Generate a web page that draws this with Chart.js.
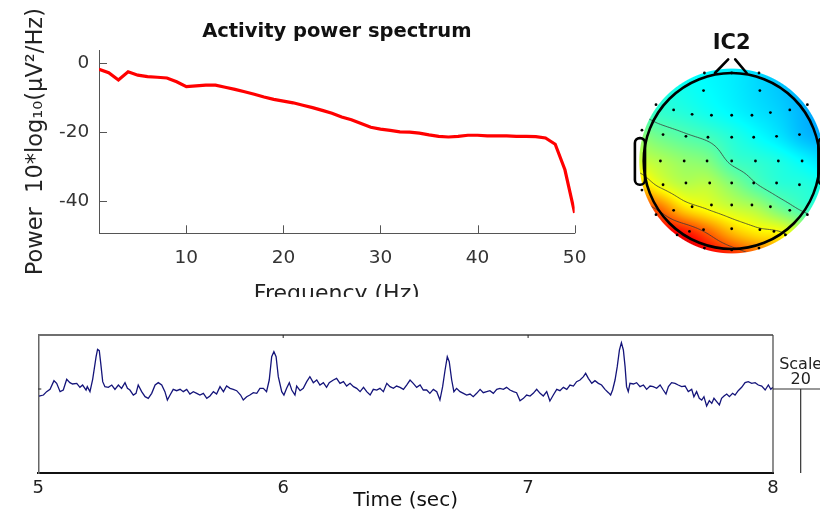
<!DOCTYPE html>
<html lang="en">
<head>
    <meta charset="UTF-8">
    <title>IC2 - component properties</title>
    <script src="https://cdn.jsdelivr.net/npm/chart.js"></script>
    <style>
        * { margin: 0; padding: 0; box-sizing: border-box; }
        html, body { width: 820px; height: 517px; overflow: hidden; background: #fff; }
        body { position: relative; font-family: 'DejaVu Sans', sans-serif; }
        .panel { position: absolute; }
        #specBox { left: 0; top: 0; width: 600px; height: 297px; overflow: hidden; }
        #topoBox { left: 600px; top: 20px; width: 264px; height: 250px; }
        #eegBox { left: 0; top: 325px; width: 820px; height: 192px; }
    </style>
</head>
<body>
    <div class="panel" id="specBox"><canvas id="specChart" width="600" height="320"></canvas></div>
    <div class="panel" id="topoBox"><canvas id="topoChart" width="264" height="250"></canvas></div>
    <div class="panel" id="eegBox"><canvas id="eegChart" width="820" height="192"></canvas></div>

    <script>
        // ---- power spectrum (dB) ----
        const freqHz = [1, 2, 3, 4, 5, 6, 7, 8, 9, 10, 11, 12, 13, 14, 15, 16, 17, 18, 19, 20,
            21, 22, 23, 24, 25, 26, 27, 28, 29, 30, 31, 32, 33, 34, 35, 36, 37, 38, 39, 40,
            41, 42, 43, 44, 45, 46, 47, 48, 49, 50];
        const powerDb = [-1.9, -2.9, -5.0, -2.6, -3.6, -4.0, -4.2, -4.4, -5.5, -6.9,
            -6.7, -6.5, -6.5, -7.1, -7.7, -8.4, -9.1, -9.9, -10.6, -11.1,
            -11.6, -12.3, -13.0, -13.8, -14.6, -15.7, -16.5, -17.6, -18.7, -19.2,
            -19.6, -20.0, -20.1, -20.4, -20.9, -21.3, -21.5, -21.3, -21.0, -21.0,
            -21.2, -21.2, -21.2, -21.3, -21.3, -21.4, -21.8, -23.6, -31.0, -43.5];
        const freqTicks = [10, 20, 30, 40, 50];
        const powerTicks = [-40, -20, 0];

        // ---- scalp map: electrode positions (head radius = 1) ----
        const elecX = [-0.31, 0, 0.31, -0.32, 0.32,
            -0.86, -0.66, -0.45, -0.23, 0, 0.23, 0.44, 0.66, 0.86,
            -1.02, -0.78, -0.52, -0.27, 0, 0.25, 0.51, 0.77, 1.02,
            -0.81, -0.54, -0.28, 0, 0.27, 0.53, 0.80,
            -1.02, -0.78, -0.52, -0.25, 0, 0.25, 0.51, 0.77, 1.02,
            -0.86, -0.66, -0.45, -0.23, 0, 0.23, 0.44, 0.66, 0.86,
            -0.62, -0.48, -0.32, 0, 0.32, 0.48, 0.61,
            -0.31, 0, 0.31];
        const elecY = [1.00, 1.00, 1.00, 0.80, 0.80,
            0.64, 0.58, 0.53, 0.52, 0.52, 0.52, 0.55, 0.58, 0.64,
            0.35, 0.30, 0.28, 0.27, 0.27, 0.27, 0.28, 0.30, 0.35,
            0, 0, 0, 0, 0, 0, 0,
            -0.33, -0.27, -0.25, -0.25, -0.25, -0.25, -0.25, -0.27, -0.33,
            -0.61, -0.56, -0.52, -0.50, -0.50, -0.50, -0.52, -0.56, -0.61,
            -0.84, -0.80, -0.78, -0.77, -0.78, -0.80, -0.84,
            -0.99, -1.01, -0.99];
        // component map sampled on a coarse grid (0..1 on the jet scale)
        const topoGridX = [-1.1, -0.825, -0.55, -0.275, 0, 0.275, 0.55, 0.825, 1.1];
        const topoGridY = [1.1, 0.825, 0.55, 0.275, 0, -0.275, -0.55, -0.825, -1.1];
        const topoGridValues = [
            [0.40, 0.39, 0.38, 0.37, 0.36, 0.34, 0.32, 0.30, 0.28],
            [0.42, 0.405, 0.39, 0.375, 0.36, 0.34, 0.32, 0.30, 0.28],
            [0.45, 0.425, 0.41, 0.39, 0.37, 0.35, 0.33, 0.30, 0.28],
            [0.52, 0.485, 0.46, 0.44, 0.41, 0.38, 0.35, 0.31, 0.29],
            [0.58, 0.55, 0.52, 0.50, 0.44, 0.42, 0.40, 0.37, 0.34],
            [0.69, 0.61, 0.56, 0.56, 0.51, 0.455, 0.42, 0.41, 0.39],
            [0.85, 0.78, 0.67, 0.62, 0.58, 0.55, 0.49, 0.44, 0.41],
            [0.95, 0.90, 0.87, 0.79, 0.70, 0.65, 0.63, 0.56, 0.48],
            [1.00, 0.97, 0.95, 0.90, 0.85, 0.79, 0.72, 0.64, 0.56]
        ];
        const topoContourLevels = [0.45, 0.62, 0.79];
        const topoDiskRadius = 1.05;

        // ---- activity trace (5-8 s) ----
        const eegTime = [5.003, 5.021, 5.034, 5.048, 5.064, 5.075, 5.089, 5.102, 5.116, 5.129,
            5.140, 5.157, 5.170, 5.181, 5.195, 5.200, 5.211, 5.222, 5.236, 5.242,
            5.249, 5.255, 5.263, 5.272, 5.286, 5.300, 5.313, 5.327, 5.340, 5.354,
            5.364, 5.374, 5.388, 5.399, 5.408, 5.422, 5.436, 5.449, 5.463, 5.477,
            5.490, 5.504, 5.517, 5.527, 5.538, 5.551, 5.565, 5.579, 5.592, 5.606,
            5.619, 5.633, 5.647, 5.660, 5.674, 5.688, 5.701, 5.715, 5.728, 5.742,
            5.756, 5.769, 5.783, 5.796, 5.810, 5.826, 5.837, 5.851, 5.864, 5.878,
            5.892, 5.905, 5.919, 5.932, 5.943, 5.953, 5.962, 5.971, 5.980, 5.994,
            6.003, 6.014, 6.025, 6.035, 6.048, 6.055, 6.069, 6.082, 6.096, 6.109,
            6.123, 6.137, 6.150, 6.164, 6.177, 6.188,
            6.205, 6.218, 6.232, 6.246, 6.259, 6.273, 6.287, 6.300, 6.314, 6.328,
            6.341, 6.355, 6.368, 6.382, 6.395, 6.409, 6.423, 6.436, 6.450, 6.463,
            6.477, 6.491, 6.504, 6.518, 6.531, 6.545, 6.559, 6.572, 6.586, 6.599,
            6.613, 6.627, 6.640, 6.651, 6.661, 6.670, 6.678, 6.688, 6.697,
            6.708, 6.722, 6.736, 6.749, 6.763, 6.776, 6.790, 6.804, 6.817, 6.831,
            6.844, 6.858, 6.872, 6.885, 6.899, 6.912, 6.926, 6.940, 6.953, 6.967,
            6.981, 6.994, 7.008, 7.021, 7.035, 7.049, 7.062, 7.076, 7.089, 7.103,
            7.117, 7.130, 7.144, 7.158, 7.171, 7.185, 7.198, 7.212, 7.226,
            7.235, 7.246, 7.260, 7.273, 7.287,
            7.300, 7.314, 7.328, 7.337, 7.345, 7.355, 7.364, 7.373, 7.381, 7.389,
            7.396, 7.402, 7.409, 7.416, 7.430, 7.443, 7.457, 7.471, 7.484, 7.498,
            7.511, 7.525, 7.539, 7.552, 7.563, 7.573, 7.586, 7.600, 7.613, 7.627,
            7.641, 7.654, 7.668, 7.677, 7.688, 7.699, 7.709, 7.718, 7.729, 7.740,
            7.750, 7.759, 7.770, 7.781, 7.790, 7.800, 7.811, 7.822, 7.835, 7.845,
            7.858, 7.872, 7.886, 7.899, 7.913, 7.927, 7.940, 7.954, 7.968, 7.981,
            7.991, 8.000];
        const eegUv = [-1.67, -1.43, -0.63, -0.08, 1.98, 1.35, -0.63, -0.24, 2.30, 1.51,
            1.19, 1.35, 0.40, 0.95, -0.24, 0.56, -0.63, 2.30, 7.70, 9.44,
            9.13, 6.11, 1.75, 0.56, 0.40, 0.95, -0.08, 0.95, 0.16, 1.51,
            0.16, -0.24, -1.43, -1.03, 0.95, -0.63, -1.83, -2.22, -1.03, 0.95,
            1.51, 0.95, -0.63, -2.62, -1.43, -0.08, -0.40, -0.08, -0.63, -0.08,
            -1.19, -0.63, -1.03, -1.43, -1.03, -2.22, -1.67, -0.63, -1.19, 0.56,
            -0.63, 0.71, 0.16, -0.08, -0.40, -1.43, -2.62, -1.83, -1.43, -0.87,
            -1.03, 0.16, 0.16, -0.63, 2.14, 7.70, 8.89, 7.70, 2.94, -0.63,
            -1.43, 0.16, 1.51, -0.24, -1.43, 0.71, -0.40, 0.16, 1.75, 2.94,
            1.51, 2.14, 0.95, 1.51, 0.40, 1.51,
            2.14, 2.54, 1.35, 1.75, 0.71, 1.35, 0.56, 0.16, -0.63, 0.40,
            -0.63, -1.43, -0.08, -0.24, 0.16, -0.63, 1.35, 0.56, 0.16, 0.71,
            0.40, -0.08, 0.95, 2.14, 1.35, 0.40, 0.95, -0.24, -0.24, -1.03,
            -0.08, -0.63, -2.62, 0.56, 4.52, 7.70, 6.51, 2.14, -0.63,
            0.16, -0.63, -1.03, -1.43, -1.19, -1.83, -1.03, -0.08, -0.87, -0.63,
            -0.40, -1.03, -0.08, 0.16, -0.08, 0.40, -0.24, -0.63, -0.87, -2.78,
            -2.22, -1.43, -1.67, -1.03, -0.08, -1.03, -1.67, -0.63, -2.86, -1.43,
            -0.08, -0.40, 0.40, -0.08, 0.95, 0.71, 1.75, 2.14, 2.94,
            3.73, 2.54, 1.35, 1.98, 1.35,
            0.95, -0.08, -0.87, -1.43, -0.24, 2.14, 5.32, 9.29, 11.03, 9.29,
            5.32, 0.56, -0.63, 1.35, 1.19, 1.51, 0.56, 0.95, -0.08, 0.71,
            0.56, 0.16, 0.95, -0.24, -1.19, 0.56, 1.51, 1.35, 0.95, 0.56,
            0.71, -0.63, -0.08, -1.83, -0.63, -2.22, -2.62, -1.83, -4.05, -2.78,
            -3.41, -2.22, -3.02, -3.81, -2.22, -1.67, -1.19, -1.83, -1.03, -1.43,
            -0.40, 0.40, 1.51, 1.75, 1.35, 1.51, 0.95, 0.71, -0.24, 0.95,
            -0.08, 0.40];
        const timeTicks = [5, 6, 7, 8];
        const scaleBarTime = 8.113;
        const scaleBarValue = 20;

        Chart.defaults.font.family = "'DejaVu Sans', sans-serif";
        Chart.defaults.color = '#333';

        // short ticks pointing into the plot, like matlab axes
        const inwardTicks = {
            id: 'inwardTicks',
            afterDraw(chart) {
                const { ctx, chartArea: a, scales: { x, y } } = chart;
                ctx.save();
                ctx.strokeStyle = '#555';
                ctx.lineWidth = 1;
                ctx.beginPath();
                x.ticks.forEach(t => {
                    const p = Math.round(x.getPixelForValue(t.value)) + 0.5;
                    ctx.moveTo(p, a.bottom);
                    ctx.lineTo(p, a.bottom - 8);
                });
                y.ticks.forEach(t => {
                    const p = Math.round(y.getPixelForValue(t.value)) + 0.5;
                    ctx.moveTo(a.left, p);
                    ctx.lineTo(a.left + 8, p);
                });
                ctx.stroke();
                ctx.restore();
            }
        };

        new Chart(document.getElementById('specChart'), {
            type: 'line',
            data: {
                datasets: [{
                    data: freqHz.map((f, i) => ({ x: f, y: powerDb[i] })),
                    borderColor: '#ff0000',
                    borderWidth: 3.2,
                    pointRadius: 0,
                    tension: 0
                }]
            },
            options: {
                responsive: false,
                animation: false,
                devicePixelRatio: 1,
                layout: { padding: { left: 0, right: 21.3, top: 0, bottom: 0 } },
                plugins: {
                    legend: { display: false },
                    tooltip: { enabled: false },
                    title: {
                        display: true,
                        text: 'Activity power spectrum',
                        fullSize: false,
                        color: '#111',
                        font: { size: 19.5, weight: 'bold' },
                        padding: { top: 20.6, bottom: 6 }
                    }
                },
                scales: {
                    x: {
                        type: 'linear',
                        min: 1,
                        max: 50,
                        afterBuildTicks: s => { s.ticks = freqTicks.map(v => ({ value: v })); },
                        afterFit: s => { s.height = 86.7; },
                        grid: { display: false, drawTicks: false },
                        border: { display: true, color: '#555', width: 1 },
                        ticks: { color: '#333', font: { size: 18.5 }, padding: 13.6, maxRotation: 0, autoSkip: false },
                        title: { display: true, text: 'Frequency (Hz)', color: '#222', font: { size: 22 }, padding: { top: 0, bottom: 12.3 } }
                    },
                    y: {
                        min: -49.4,
                        max: 3.7,
                        afterBuildTicks: s => { s.ticks = powerTicks.map(v => ({ value: v })); },
                        afterFit: s => { s.width = 99; },
                        grid: { display: false, drawTicks: false },
                        border: { display: true, color: '#555', width: 1 },
                        ticks: { color: '#333', font: { size: 18.5 }, padding: 9.7 },
                        title: { display: true, text: 'Power  10*log₁₀(μV²/Hz)', color: '#222', font: { size: 22.5 }, padding: { top: 23.1, bottom: 0 } }
                    }
                }
            },
            plugins: [inwardTicks]
        });

        // ---- scalp map helpers ----
        function catmull(p0, p1, p2, p3, t) {
            return p1 + 0.5 * t * (p2 - p0 + t * (2 * p0 - 5 * p1 + 4 * p2 - p3 + t * (3 * (p1 - p2) + p3 - p0)));
        }
        function fieldAt(ux, uy) {
            const n = topoGridX.length, m = topoGridY.length;
            const fi = Math.min(Math.max((ux - topoGridX[0]) / (topoGridX[1] - topoGridX[0]), 0), n - 1.0001);
            const fj = Math.min(Math.max((topoGridY[0] - uy) / (topoGridY[0] - topoGridY[1]), 0), m - 1.0001);
            const i = Math.floor(fi), j = Math.floor(fj);
            const g = (jj, ii) => topoGridValues[Math.max(0, Math.min(m - 1, jj))][Math.max(0, Math.min(n - 1, ii))];
            const rows = [];
            for (let k = -1; k <= 2; k++) {
                rows.push(catmull(g(j + k, i - 1), g(j + k, i), g(j + k, i + 1), g(j + k, i + 2), fi - i));
            }
            return catmull(rows[0], rows[1], rows[2], rows[3], fj - j);
        }
        function jet(v) {
            const c = q => Math.max(0, Math.min(1, q));
            v = c(v);
            return [c(1.5 - Math.abs(4 * v - 3)), c(1.5 - Math.abs(4 * v - 2)), c(1.5 - Math.abs(4 * v - 1))]
                .map(q => Math.round(q * 255));
        }

        // marching squares edge table
        const SEGS = {
            1: [[3, 0]], 2: [[0, 1]], 3: [[3, 1]], 4: [[1, 2]], 5: [[3, 0], [1, 2]], 6: [[0, 2]], 7: [[3, 2]],
            8: [[2, 3]], 9: [[0, 2]], 10: [[0, 1], [2, 3]], 11: [[1, 2]], 12: [[1, 3]], 13: [[0, 1]], 14: [[0, 3]]
        };

        const scalpMap = {
            id: 'scalpMap',
            beforeDatasetsDraw(chart) {
                const { ctx, scales: { x, y } } = chart;
                const cx = x.getPixelForValue(0), cy = y.getPixelForValue(0);
                const unit = x.getPixelForValue(1) - cx;
                const rDisk = topoDiskRadius * unit;

                // interpolated colour disk
                const x0 = Math.floor(cx - rDisk) - 2, y0 = Math.floor(cy - rDisk) - 2;
                const size = Math.ceil(2 * rDisk) + 4;
                const off = document.createElement('canvas');
                off.width = size; off.height = size;
                const octx = off.getContext('2d');
                const img = octx.createImageData(size, size);
                for (let j = 0; j < size; j++) {
                    for (let i = 0; i < size; i++) {
                        const ux = x.getValueForPixel(x0 + i + 0.5);
                        const uy = y.getValueForPixel(y0 + j + 0.5);
                        const r = Math.hypot(ux, uy);
                        const alpha = Math.max(0, Math.min(1, (topoDiskRadius - r) * unit + 0.5));
                        if (alpha <= 0) continue;
                        const col = jet(fieldAt(ux, uy));
                        const k = 4 * (j * size + i);
                        img.data[k] = col[0];
                        img.data[k + 1] = col[1];
                        img.data[k + 2] = col[2];
                        img.data[k + 3] = Math.round(alpha * 255);
                    }
                }
                octx.putImageData(img, 0, 0);
                ctx.drawImage(off, x0, y0);

                // contour lines
                const s = 0.02, D = topoDiskRadius + s;
                const n = Math.ceil(2 * D / s) + 1;
                const vals = new Float32Array(n * n);
                for (let j = 0; j < n; j++) {
                    for (let i = 0; i < n; i++) vals[j * n + i] = fieldAt(-D + i * s, D - j * s);
                }
                const toPx = (fi, fj) => [x.getPixelForValue(-D + fi * s), y.getPixelForValue(D - fj * s)];
                ctx.save();
                ctx.beginPath();
                ctx.arc(cx, cy, rDisk, 0, Math.PI * 2);
                ctx.clip();
                ctx.strokeStyle = '#3a3a3a';
                ctx.lineWidth = 0.8;
                ctx.beginPath();
                topoContourLevels.forEach(L => {
                    for (let j = 0; j < n - 1; j++) {
                        for (let i = 0; i < n - 1; i++) {
                            const a = vals[j * n + i], b = vals[j * n + i + 1];
                            const c = vals[(j + 1) * n + i + 1], d = vals[(j + 1) * n + i];
                            const idx = (a > L ? 1 : 0) | (b > L ? 2 : 0) | (c > L ? 4 : 0) | (d > L ? 8 : 0);
                            const segs = SEGS[idx];
                            if (!segs) continue;
                            const edge = e => {
                                if (e === 0) return toPx(i + (L - a) / (b - a), j);
                                if (e === 1) return toPx(i + 1, j + (L - b) / (c - b));
                                if (e === 2) return toPx(i + 1 - (L - c) / (d - c), j + 1);
                                return toPx(i, j + 1 - (L - d) / (a - d));
                            };
                            segs.forEach(([e1, e2]) => {
                                const p = edge(e1), q = edge(e2);
                                ctx.moveTo(p[0], p[1]);
                                ctx.lineTo(q[0], q[1]);
                            });
                        }
                    }
                });
                ctx.stroke();
                ctx.restore();

                // head outline, nose and ears
                const px = v => x.getPixelForValue(v), py = v => y.getPixelForValue(v);
                ctx.save();
                ctx.strokeStyle = '#000';
                ctx.lineWidth = 2.6;
                ctx.lineCap = 'round';
                ctx.beginPath();
                ctx.arc(cx, cy, unit, 0, Math.PI * 2);
                ctx.stroke();
                ctx.beginPath();
                ctx.moveTo(px(-0.19), py(1.0));
                ctx.lineTo(px(-0.04), py(1.155));
                ctx.moveTo(px(0.04), py(1.155));
                ctx.lineTo(px(0.17), py(1.0));
                ctx.stroke();
                ctx.beginPath();
                ctx.roundRect(px(-1.1), py(0.26), px(-0.985) - px(-1.1), py(-0.27) - py(0.26), 0.055 * unit);
                ctx.roundRect(px(0.985), py(0.26), px(1.1) - px(0.985), py(-0.27) - py(0.26), 0.055 * unit);
                ctx.stroke();
                ctx.restore();
            }
        };

        new Chart(document.getElementById('topoChart'), {
            type: 'scatter',
            data: {
                datasets: [{
                    data: elecX.map((v, i) => ({ x: v, y: elecY[i] })),
                    pointRadius: 1.4,
                    pointBackgroundColor: '#000',
                    pointBorderWidth: 0
                }]
            },
            options: {
                responsive: false,
                animation: false,
                devicePixelRatio: 1,
                layout: { padding: { left: 26.1, right: 26.7, top: 0, bottom: 7.8 } },
                plugins: {
                    legend: { display: false },
                    tooltip: { enabled: false },
                    title: {
                        display: true,
                        text: 'IC2',
                        fullSize: false,
                        color: '#111',
                        font: { size: 21, weight: 'bold' },
                        padding: { top: 11.3, bottom: 3.3 }
                    }
                },
                scales: {
                    x: { type: 'linear', min: -1.2, max: 1.2, display: false },
                    y: { type: 'linear', min: -1.15, max: 1.15, display: false }
                }
            },
            plugins: [scalpMap]
        });

        // box, small marks and the scale bar of the trace panel
        const eegFrame = {
            id: 'eegFrame',
            afterDraw(chart) {
                const { ctx, chartArea: a, scales: { x, y } } = chart;
                const line = (x1, y1, x2, y2) => { ctx.beginPath(); ctx.moveTo(x1, y1); ctx.lineTo(x2, y2); ctx.stroke(); };
                const y0 = y.getPixelForValue(0);
                ctx.save();
                ctx.strokeStyle = '#6f6f6f';
                ctx.lineWidth = 2;
                line(a.left, a.top, a.right, a.top);
                ctx.strokeStyle = '#444';
                ctx.lineWidth = 1.2;
                line(a.right, a.top, a.right, a.bottom);
                ctx.strokeStyle = '#222';
                ctx.lineWidth = 1;
                x.ticks.forEach(t => {
                    if (t.value > x.min && t.value < x.max) {
                        const p = x.getPixelForValue(t.value);
                        line(p, a.top, p, a.top + 3);
                    }
                });
                line(a.left, y0, a.left + 3, y0);
                const xs = x.getPixelForValue(scaleBarTime);
                ctx.strokeStyle = '#333';
                ctx.lineWidth = 1.2;
                line(a.right, y0, chart.width, y0);
                line(xs, y0, xs, y.getPixelForValue(-scaleBarValue));
                ctx.fillStyle = '#222';
                ctx.font = "16px 'DejaVu Sans', sans-serif";
                ctx.textAlign = 'center';
                ctx.textBaseline = 'middle';
                ctx.fillText('Scale', xs, y0 - 24.4);
                ctx.fillText(String(scaleBarValue), xs, y0 - 8.7);
                ctx.restore();
            }
        };

        new Chart(document.getElementById('eegChart'), {
            type: 'line',
            data: {
                datasets: [{
                    data: eegTime.map((t, i) => ({ x: t, y: eegUv[i] })),
                    borderColor: '#14147a',
                    borderWidth: 1.3,
                    pointRadius: 0,
                    tension: 0
                }]
            },
            options: {
                responsive: false,
                animation: false,
                devicePixelRatio: 1,
                layout: { padding: { left: 0, right: 47, top: 10, bottom: 0 } },
                plugins: { legend: { display: false }, tooltip: { enabled: false } },
                scales: {
                    x: {
                        type: 'linear',
                        min: 5,
                        max: 8,
                        afterBuildTicks: s => { s.ticks = timeTicks.map(v => ({ value: v })); },
                        afterFit: s => { s.height = 44; },
                        grid: { display: false, drawTicks: false },
                        border: { display: true, color: '#111', width: 2 },
                        ticks: { color: '#222', font: { size: 18 }, padding: 4.1, maxRotation: 0, autoSkip: false },
                        title: { display: true, text: 'Time (sec)', color: '#111', font: { size: 20 }, padding: { top: 0, bottom: 3.9 } }
                    },
                    y: {
                        min: -20,
                        max: 12.86,
                        afterFit: s => { s.width = 38.3; },
                        grid: { display: false, drawTicks: false },
                        border: { display: true, color: '#666', width: 1.5 },
                        ticks: { display: false }
                    }
                }
            },
            plugins: [eegFrame]
        });
    </script>
</body>
</html>
